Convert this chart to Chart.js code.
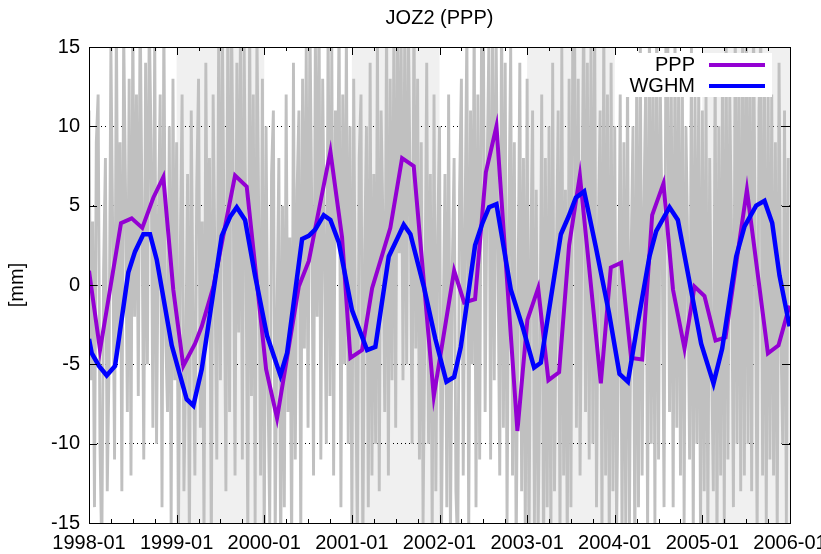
<!DOCTYPE html>
<html>
<head>
<meta charset="utf-8">
<script src="https://cdn.jsdelivr.net/npm/chart.js@4.4.0/dist/chart.umd.min.js"></script>
<style>
    html, body { margin: 0; padding: 0; background: #fff; }
</style>
</head>
<body>
<canvas id="seriesChart" width="821" height="554"></canvas>
<script>
// PPP vertical displacement (decimal year, mm)
const pppYears = [1998.000, 1998.126, 1998.365, 1998.487, 1998.608, 1998.734, 1998.848, 1998.962,
    1999.076, 1999.210, 1999.287, 1999.420, 1999.553, 1999.667, 1999.800, 2000.021, 2000.146,
    2000.394, 2000.508, 2000.755, 2000.888, 2000.983, 2001.116, 2001.231, 2001.439, 2001.573,
    2001.706, 2001.935, 2002.167, 2002.281, 2002.406, 2002.529, 2002.650, 2002.889, 2003.003,
    2003.126, 2003.243, 2003.365, 2003.479, 2003.602, 2003.841, 2003.955, 2004.073, 2004.187,
    2004.313, 2004.427, 2004.556, 2004.665, 2004.796, 2004.910, 2005.024, 2005.150, 2005.264,
    2005.508, 2005.748, 2005.869, 2005.995];
const pppValues = [0.9, -4.1, 3.9, 4.2, 3.6, 5.5, 6.8, -0.3,
    -5.1, -3.7, -2.6, -0.1, 3.7, 6.9, 6.2, -5.3, -8.4,
    -0.1, 1.5, 8.4, 3.0, -4.6, -4.1, -0.2, 3.6, 8.0,
    7.5, -7.0, 0.9, -1.1, -0.9, 7.1, 10.0, -9.2, -2.2,
    -0.2, -6.0, -5.5, 2.5, 6.9, -6.2, 1.1, 1.4, -4.6,
    -4.7, 4.4, 6.4, -0.3, -4.0, -0.1, -0.7, -3.5, -3.3,
    6.0, -4.3, -3.8, -1.3];

// WGHM model loading (decimal year, mm)
const wghmYears = [1998.000, 1998.031, 1998.114, 1998.202, 1998.297, 1998.449, 1998.525, 1998.620,
    1998.696, 1998.773, 1998.944, 1999.115, 1999.191, 1999.287, 1999.515, 1999.610, 1999.686,
    1999.781, 1999.895, 2000.032, 2000.184, 2000.260, 2000.432, 2000.508, 2000.583, 2000.679,
    2000.755, 2000.850, 2001.002, 2001.174, 2001.268, 2001.421, 2001.516, 2001.592, 2001.668,
    2001.821, 2001.953, 2002.079, 2002.167, 2002.243, 2002.406, 2002.490, 2002.566, 2002.650,
    2002.814, 2002.946, 2003.080, 2003.156, 2003.385, 2003.472, 2003.556, 2003.651, 2003.784,
    2003.936, 2004.054, 2004.150, 2004.244, 2004.396, 2004.473, 2004.625, 2004.720, 2004.986,
    2005.127, 2005.226, 2005.386, 2005.481, 2005.614, 2005.709, 2005.797, 2005.880, 2005.995];
const wghmValues = [-3.4, -4.3, -5.1, -5.7, -5.1, 0.8, 2.1, 3.2,
    3.2, 1.6, -3.8, -7.2, -7.6, -5.3, 3.1, 4.3, 4.9,
    4.1, 0.6, -3.2, -5.7, -4.3, 2.9, 3.1, 3.5, 4.4,
    4.1, 2.7, -1.6, -4.1, -3.9, 1.8, 2.9, 3.8, 3.2,
    -0.1, -3.4, -6.1, -5.8, -3.9, 2.5, 3.9, 4.9, 5.1,
    -0.3, -2.6, -5.2, -4.9, 3.2, 4.3, 5.5, 5.9, 2.4,
    -1.8, -5.6, -6.1, -3.0, 1.8, 3.4, 4.9, 4.1, -3.7,
    -6.2, -4.0, 1.8, 3.7, 5.0, 5.3, 3.9, 0.6, -2.6];

// daily PPP solutions, read at 48 samples per year from 1998-01 (one row per quarter)
const rawStart = 1998;
const rawPerYear = 48;
const rawValues = [
    11, -6, 4, -14, 9, 12, -10, -17, 1, 8, -13, -5,
    15, 3, -11, 17, -4, 9, -13, 16, 6, -8, 13, -12,
    17, -2, 12, -7, 18, 5, -11, 14, -5, 17, 9, -9,
    16, -10, 4, 12, -14, 17, -3, -8, 10, -15, 13, -6,
    9, -16, 2, 12, -13, -5, 7, -17, 11, -2, -12, 6,
    13, -9, 4, -16, 14, -3, 8, -17, 12, 1, -11, 15,
    -6, 17, 3, -13, 16, -8, 18, 6, -12, 14, -3, 17,
    -11, 15, 2, -16, 17, -7, 12, -15, 16, 4, -12, 13,
    -17, 10, -6, -15, 7, 11, -16, -2, 8, -18, 5, -14,
    12, -8, 3, -17, 14, -11, 6, 11, -16, 13, -4, 15,
    -9, 17, 5, -12, 16, -2, 18, -11, 13, 2, -10, 17,
    -7, 15, -12, 11, 3, 17, -14, 12, -5, 16, -10, 10,
    -15, 13, -4, -16, 8, 12, -17, 2, 10, -14, 14, -12,
    7, -10, 16, -13, 11, 4, -8, 17, -12, 13, -6, 16,
    -9, 18, 2, 15, -6, 17, -5, 16, 5, -10, 18, -4,
    13, -11, 9, -15, -2, 14, -10, 7, -16, 12, -13, 3,
    10, -17, -3, 7, -14, 12, -16, 1, 8, -13, -17, 6,
    13, -12, 4, 16, -16, 11, -5, 17, -14, 12, -11, 15,
    18, -8, 6, 15, -11, 17, -6, 16, 2, -12, 18, -9,
    14, -15, 4, 15, -12, 9, -17, -1, 14, -13, 8, -16,
    13, -17, 2, 11, -15, 6, -16, -5, 12, -18, 8, -14,
    10, -17, 14, -13, 1, 11, -16, 15, -12, 6, -17, 13,
    -14, 16, 17, -9, 13, -12, 4, 18, -8, 14, -11, 16,
    -10, 17, -14, 3, 11, -16, 17, -12, 12, -17, 14, -13,
    10, -16, -4, 12, -17, 9, -15, 14, -16, 2, 10, -18,
    13, -14, 16, -12, 5, 13, -16, 17, -10, 14, -15, 18,
    -11, 12, 3, -14, 15, 17, -8, 12, -14, 16, -9, 13,
    -12, 14, -15, 10, 2, -11, 15, -16, 12, -10, 13, -17,
    11, -13, 12, -16, 8, -4, -13, 14, -17, 10, -12, 13,
    -15, 16, -11, 12, 3, -14, 17, -10, 14, -13, 15, -12,
    18, -10, 14, -13, 17, 2, -16, 11, 16, -12, 13, -15,
    13, -11, 12, -12, 9, -16, 14, -3, -10, 11, -15, 8
];

const yearTicks = [1998, 1999, 2000, 2001, 2002, 2003, 2004, 2005, 2006];
const shadedYears = [1999, 2001, 2003, 2005];

const FONT = "'Liberation Sans', Arial, sans-serif";

function toPoints(xs, ys) {
    return xs.map((x, i) => ({ x: x, y: ys[i] }));
}

const rawPoints = rawValues.map((v, i) => ({ x: rawStart + i / rawPerYear, y: v }));

// shading, ticks, frame, key and titles in gnuplot style
const gnuplotFrame = {
    id: 'gnuplotFrame',
    beforeDraw(chart) {
        const { ctx, chartArea: a, scales: { x } } = chart;
        ctx.save();
        ctx.fillStyle = '#f0f0f0';
        shadedYears.forEach(yr => {
            const x0 = x.getPixelForValue(yr);
            const x1 = x.getPixelForValue(yr + 1);
            ctx.fillRect(x0, a.top, x1 - x0, a.bottom - a.top);
        });
        ctx.restore();
    },
    afterDatasetsDraw(chart) {
        const { ctx, chartArea: a, scales: { x, y } } = chart;
        ctx.save();
        ctx.strokeStyle = '#000';
        ctx.lineWidth = 1;
        ctx.beginPath();
        // y ticks, left and right
        for (let v = -15; v <= 15; v += 5) {
            const py = Math.round(y.getPixelForValue(v)) + 0.5;
            ctx.moveTo(a.left, py); ctx.lineTo(a.left + 8, py);
            ctx.moveTo(a.right, py); ctx.lineTo(a.right - 8, py);
        }
        // x ticks, quarterly minors
        for (let yr = 1998; yr < 2006.01; yr += 0.25) {
            const px = Math.round(x.getPixelForValue(yr)) + 0.5;
            const len = Math.abs(yr - Math.round(yr)) < 0.01 ? 8 : 4;
            ctx.moveTo(px, a.bottom); ctx.lineTo(px, a.bottom - len);
            ctx.moveTo(px, a.top); ctx.lineTo(px, a.top + len);
        }
        ctx.stroke();
        ctx.strokeRect(Math.round(a.left) + 0.5, Math.round(a.top) + 0.5,
            Math.round(a.right - a.left), Math.round(a.bottom - a.top));

        // key
        ctx.fillStyle = '#fff';
        ctx.fillRect(624, 53, 148, 44);
        ctx.font = '20px ' + FONT;
        ctx.textAlign = 'right';
        ctx.textBaseline = 'middle';
        const keyItems = chart.data.datasets.filter(d => d.keyLabel);
        keyItems.forEach((d, i) => {
            const ky = 65 + i * 21;
            ctx.fillStyle = '#000';
            ctx.fillText(d.keyLabel, 695, ky);
            ctx.strokeStyle = d.borderColor;
            ctx.lineWidth = 4;
            ctx.beginPath();
            ctx.moveTo(709, ky);
            ctx.lineTo(765, ky);
            ctx.stroke();
        });
        ctx.restore();
    },
    afterDraw(chart) {
        const { ctx, chartArea: a } = chart;
        ctx.save();
        ctx.fillStyle = '#000';
        ctx.font = '20px ' + FONT;
        ctx.textAlign = 'center';
        ctx.textBaseline = 'middle';
        ctx.fillText('JOZ2 (PPP)', (a.left + a.right) / 2, 18);
        ctx.translate(17, (a.top + a.bottom) / 2);
        ctx.rotate(-Math.PI / 2);
        ctx.fillText('[mm]', 0, 0);
        ctx.restore();
    }
};

const ctx = document.getElementById('seriesChart').getContext('2d');
new Chart(ctx, {
    type: 'line',
    data: {
        datasets: [{
            label: 'daily',
            data: rawPoints,
            borderColor: '#c0c0c0',
            borderWidth: 2.9,
            pointRadius: 0,
            clip: 0,
            order: 3
        },
        {
            label: 'PPP',
            keyLabel: 'PPP',
            data: toPoints(pppYears, pppValues),
            borderColor: '#9400d3',
            borderWidth: 4,
            pointRadius: 0,
            order: 2
        },
        {
            label: 'WGHM',
            keyLabel: 'WGHM',
            data: toPoints(wghmYears, wghmValues),
            borderColor: '#0000ff',
            borderWidth: 4.5,
            pointRadius: 0,
            order: 1
        }]
    },
    options: {
        responsive: false,
        animation: false,
        layout: {
            padding: { top: 47, right: 31, bottom: 0, left: 0 }
        },
        plugins: {
            legend: { display: false },
            title: { display: false },
            tooltip: { enabled: false }
        },
        elements: {
            line: { tension: 0, borderJoinStyle: 'miter' }
        },
        scales: {
            x: {
                type: 'linear',
                min: 1998,
                max: 2006,
                afterBuildTicks: function(scale) {
                    scale.ticks = yearTicks.map(v => ({ value: v }));
                },
                afterFit: function(scale) {
                    scale.height = 31;
                    scale.paddingLeft = 0;
                    scale.paddingRight = 0;
                },
                grid: { display: false, drawTicks: false },
                border: { display: false },
                ticks: {
                    autoSkip: false,
                    maxRotation: 0,
                    padding: 8,
                    color: '#000',
                    font: { family: FONT, size: 20 },
                    callback: function(value) {
                        return value + '-01';
                    }
                }
            },
            y: {
                min: -15,
                max: 15,
                afterFit: function(scale) {
                    scale.width = 89;
                },
                grid: { color: '#000', lineWidth: 1, drawTicks: false },
                border: { display: false, dash: [1, 3] },
                ticks: {
                    stepSize: 5,
                    padding: 9,
                    color: '#000',
                    font: { family: FONT, size: 20 }
                }
            }
        }
    },
    plugins: [gnuplotFrame]
});
</script>
</body>
</html>
